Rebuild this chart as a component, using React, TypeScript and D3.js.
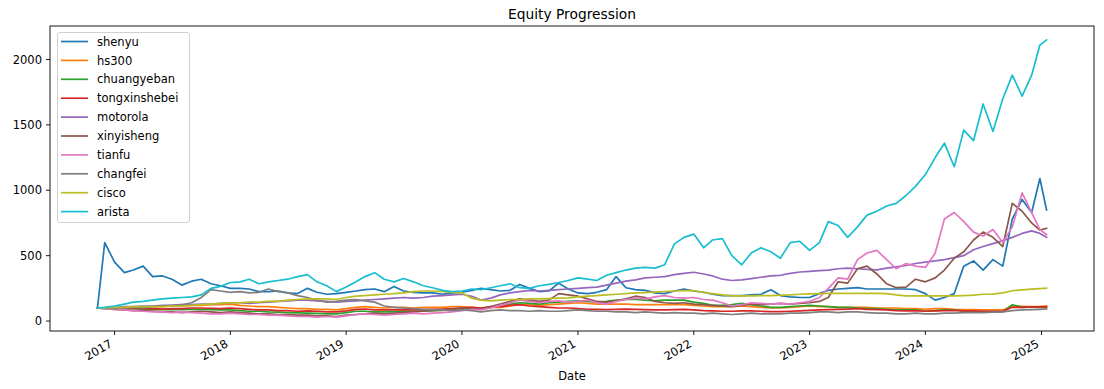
import React, { useRef, useEffect } from "react";
import * as d3 from "d3";

const seriesNames = [
  "shenyu",
  "hs300",
  "chuangyeban",
  "tongxinshebei",
  "motorola",
  "xinyisheng",
  "tianfu",
  "changfei",
  "cisco",
  "arista",
];

// matplotlib tab10
const colors = [
  "#1f77b4",
  "#ff7f0e",
  "#2ca02c",
  "#d62728",
  "#9467bd",
  "#8c564b",
  "#e377c2",
  "#7f7f7f",
  "#bcbd22",
  "#17becf",
];

// first day, monthly samples Dec 2016 .. Dec 2024, then two late points
const monthDates = d3.timeMonth.range(new Date(2016, 11, 1), new Date(2025, 0, 1));
const dates = [new Date(2016, 10, 8), ...monthDates, new Date(2024, 11, 27), new Date(2025, 0, 17)];

const yearTicks = ["2017", "2018", "2019", "2020", "2021", "2022", "2023", "2024", "2025"];
const valueTicks = [0, 500, 1000, 1500, 2000];

const shenyu = [
  100, 600, 450, 370, 390, 420, 340, 345, 320, 275,
  305, 320, 285, 270, 250, 250, 245, 225, 225, 230,
  215, 210, 250, 220, 205, 210, 220, 230, 240, 245,
  225, 265, 230, 220, 215, 215, 205, 215, 220, 235,
  250, 240, 230, 235, 280, 250, 225, 230, 290, 245,
  215, 210, 220, 240, 340, 255, 240, 235, 215, 210,
  230, 245, 230, 220, 205, 195, 195, 195, 200, 205,
  240, 195, 185, 180, 180, 210, 235, 245, 250, 255,
  245, 245, 245, 245, 245, 240, 210, 160, 180, 210,
  420, 460, 390, 470, 420, 780, 930, 830, 1090, 850,
];
const hs300 = [
  100, 100, 100, 105, 105, 105, 110, 110, 115, 115,
  120, 120, 125, 125, 130, 120, 115, 110, 110, 105,
  100, 95, 95, 90, 90, 85, 95, 105, 110, 105,
  100, 105, 105, 100, 105, 105, 105, 110, 110, 105,
  100, 105, 105, 115, 125, 125, 120, 125, 130, 135,
  140, 135, 130, 130, 130, 130, 125, 125, 125, 125,
  125, 125, 120, 115, 110, 110, 110, 115, 110, 105,
  100, 100, 105, 110, 115, 110, 110, 105, 105, 105,
  105, 100, 100, 100, 95, 95, 90, 95, 95, 90,
  88, 88, 85, 85, 85, 115, 112, 110, 112, 115,
];
const chuangyeban = [
  100, 98, 95, 95, 95, 90, 88, 88, 90, 88,
  90, 90, 88, 85, 85, 80, 75, 75, 70, 68,
  65, 62, 60, 58, 55, 55, 65, 75, 75, 70,
  70, 72, 75, 75, 78, 80, 82, 90, 95, 100,
  95, 105, 115, 130, 140, 135, 130, 140, 145, 150,
  155, 150, 145, 150, 160, 165, 165, 160, 155, 160,
  160, 160, 145, 135, 120, 120, 125, 135, 125, 115,
  105, 105, 110, 115, 120, 115, 110, 105, 105, 100,
  95, 95, 90, 85, 85, 85, 75, 80, 85, 85,
  75, 75, 72, 72, 70, 125, 105, 108, 105, 102,
];
const tongxinshebei = [
  100, 98, 95, 95, 98, 95, 95, 92, 95, 95,
  100, 100, 98, 95, 100, 95, 90, 85, 85, 80,
  80, 75, 78, 75, 70, 70, 78, 90, 92, 85,
  85, 85, 88, 85, 88, 90, 92, 95, 100, 105,
  100, 110, 110, 120, 125, 115, 110, 105, 100, 100,
  95, 90, 90, 88, 90, 92, 90, 88, 85, 85,
  88, 90, 85, 80, 78, 75, 75, 78, 78, 75,
  72, 72, 75, 78, 82, 85, 88, 90, 92, 95,
  90, 88, 85, 80, 78, 80, 75, 78, 80, 82,
  78, 78, 75, 75, 75, 105, 105, 108, 108, 108,
];
const motorola = [
  100, 100, 105, 110, 110, 115, 115, 120, 120, 125,
  125, 130, 130, 135, 140, 140, 135, 140, 145, 150,
  155, 160, 160, 155, 150, 145, 150, 155, 160, 165,
  170, 175, 180, 175, 180, 190, 195, 200, 205, 190,
  160, 175, 200, 215, 225, 235, 230, 235, 240, 245,
  250, 255, 260, 275, 290, 305, 315, 330, 335, 340,
  355, 365, 373, 360, 345, 320, 310, 315, 325, 335,
  345, 350, 365, 375, 380, 385, 390, 400, 405, 400,
  395, 392, 405, 415, 425, 440, 450, 460, 470, 485,
  500, 545, 570, 592, 615, 640, 670, 690, 670, 640,
];
const xinyisheng = [
  100, 95, 90, 85, 80, 80, 75, 70, 70, 65,
  70, 75, 70, 65, 70, 65, 60, 55, 55, 50,
  50, 45, 45, 40, 40, 35, 45, 50, 55, 60,
  55, 60, 65, 70, 75, 80, 85, 90, 100, 95,
  90, 110, 130, 150, 170, 160, 150, 160, 210, 200,
  190, 170, 150, 145, 155, 170, 190, 180, 150, 140,
  135, 140, 130, 125, 120, 115, 110, 120, 130, 125,
  130, 135, 130, 135, 140, 150, 180, 300, 290, 400,
  420, 360, 285, 255, 260, 320, 300, 330, 390, 480,
  530, 620, 680, 640, 570, 900, 840, 750, 695, 710,
];
const tianfu = [
  100, 95, 90, 85, 80, 75, 70, 70, 65, 70,
  65, 60, 55, 55, 60, 55, 50, 50, 45, 45,
  40, 35, 35, 30, 35, 30, 40, 50, 55, 50,
  45, 50, 55, 60, 55, 60, 65, 70, 80, 90,
  85, 100, 120, 140, 160, 150, 140, 150, 155, 145,
  150, 160, 140, 130, 150, 165, 175, 170, 185, 195,
  180, 175, 180, 165, 160, 140, 115, 125, 140, 135,
  130, 135, 130, 140, 150, 180, 250, 330, 320, 470,
  520, 540, 470, 400, 440, 420, 410, 520, 780, 830,
  760, 680, 650, 700, 600, 720, 980, 830, 700, 660,
];
const changfei = [
  100, 100, 95, 100, 105, 100, 110, 115, 120, 125,
  140, 180, 240, 230, 220, 225, 215, 220, 245, 225,
  215, 195, 180, 160, 145, 150, 160, 165, 155, 145,
  115, 105, 100, 95, 90, 85, 85, 80, 85, 80,
  70, 80, 85, 80, 80, 75, 80, 75, 75, 80,
  85, 80, 75, 75, 70, 70, 65, 70, 65, 60,
  65, 60, 60, 55, 60, 55, 50, 55, 60, 55,
  55, 55, 60, 60, 65, 70, 70, 65, 70, 70,
  65, 60, 60, 55, 55, 60, 55, 55, 60, 60,
  65, 65, 65, 68, 70, 80, 85, 88, 90, 92,
];
const cisco = [
  100, 100, 105, 105, 110, 110, 110, 110, 115, 115,
  120, 125, 130, 135, 140, 140, 145, 145, 150, 150,
  160, 165, 170, 170, 170, 165, 180, 190, 195, 200,
  205, 210, 215, 225, 230, 230, 225, 220, 215, 175,
  160, 155, 160, 165, 165, 170, 170, 172, 175, 178,
  185, 190, 195, 200, 205, 210, 215, 218, 222, 226,
  230, 232, 232, 220, 210, 200, 193, 192, 193, 195,
  195, 198, 200, 205, 208, 210, 212, 212, 212, 212,
  212, 212, 210, 200, 193, 193, 193, 193, 193, 193,
  195, 198, 205, 206, 215, 232, 238, 244, 248, 252,
];
const arista = [
  100, 105, 115, 130, 145, 150, 160, 170, 175, 180,
  185, 200, 250, 265, 295, 300, 320, 285, 300, 310,
  320, 340, 355, 300, 270, 225, 260, 300, 340, 370,
  320, 300, 325, 300, 270, 255, 235, 225, 230, 245,
  240, 255, 270, 285, 255, 250, 270, 280, 295, 310,
  330, 320, 310, 350, 370, 390, 405, 410, 405, 430,
  590, 640, 665, 560, 620, 630, 500, 430, 520, 560,
  530, 480, 600, 610, 540, 600, 760, 730, 640, 720,
  810, 840, 880, 900, 960, 1030, 1120, 1250, 1360, 1180,
  1460, 1380, 1660, 1450, 1700, 1880, 1720, 1880, 2110, 2150,
];

const seriesValues = [
  shenyu,
  hs300,
  chuangyeban,
  tongxinshebei,
  motorola,
  xinyisheng,
  tianfu,
  changfei,
  cisco,
  arista,
];

const App = () => {
  const svgRef = useRef(null);
  const width = 1104;
  const height = 389;
  const margin = { top: 26, right: 10, bottom: 58, left: 50 };
  const font = "'DejaVu Sans', sans-serif";

  useEffect(() => {
    const svg = d3.select(svgRef.current);
    svg.selectAll("*").remove();

    const left = margin.left;
    const right = width - margin.right;
    const top = margin.top;
    const bottom = height - margin.bottom;

    // matplotlib style 5% data margins
    const [d0, d1] = d3.extent(dates);
    const spanX = +d1 - +d0;
    const x = d3
      .scaleTime()
      .domain([new Date(+d0 - spanX * 0.05), new Date(+d1 + spanX * 0.05)])
      .range([left, right]);

    const allVals = seriesValues.flat();
    const vMin = d3.min(allVals);
    const vMax = d3.max(allVals);
    const spanY = vMax - vMin;
    const y = d3
      .scaleLinear()
      .domain([vMin - spanY * 0.05, vMax + spanY * 0.05])
      .range([bottom, top]);

    const line = d3
      .line()
      .x((d, i) => x(dates[i]))
      .y((d) => y(d));

    seriesValues.forEach((vals, k) => {
      svg
        .append("path")
        .datum(vals)
        .attr("d", line)
        .attr("fill", "none")
        .attr("stroke", colors[k])
        .attr("stroke-width", 1.7)
        .attr("stroke-linejoin", "round")
        .attr("stroke-linecap", "square");
    });

    // frame
    svg
      .append("rect")
      .attr("x", left)
      .attr("y", top)
      .attr("width", right - left)
      .attr("height", bottom - top)
      .attr("fill", "none")
      .attr("stroke", "#000")
      .attr("stroke-width", 0.9);

    // y ticks
    valueTicks.forEach((v) => {
      svg
        .append("line")
        .attr("x1", left - 4)
        .attr("x2", left)
        .attr("y1", y(v))
        .attr("y2", y(v))
        .attr("stroke", "#000")
        .attr("stroke-width", 0.9);
      svg
        .append("text")
        .attr("x", left - 8)
        .attr("y", y(v))
        .attr("dy", "0.36em")
        .attr("text-anchor", "end")
        .style("font-family", font)
        .style("font-size", "11.5px")
        .text(v);
    });

    // x ticks, rotated labels
    yearTicks.forEach((yr) => {
      const tx = x(new Date(+yr, 0, 1));
      svg
        .append("line")
        .attr("x1", tx)
        .attr("x2", tx)
        .attr("y1", bottom)
        .attr("y2", bottom + 4)
        .attr("stroke", "#000")
        .attr("stroke-width", 0.9);
      const ax = tx - 1.5;
      const ay = bottom + 15;
      svg
        .append("text")
        .attr("x", ax)
        .attr("y", ay)
        .attr("text-anchor", "end")
        .attr("transform", `rotate(-30, ${ax}, ${ay})`)
        .style("font-family", font)
        .style("font-size", "11.5px")
        .text(yr);
    });

    svg
      .append("text")
      .attr("x", (left + right) / 2)
      .attr("y", 380)
      .attr("text-anchor", "middle")
      .style("font-family", font)
      .style("font-size", "11.5px")
      .text("Date");

    svg
      .append("text")
      .attr("x", (left + right) / 2)
      .attr("y", 19)
      .attr("text-anchor", "middle")
      .style("font-family", font)
      .style("font-size", "13.8px")
      .text("Equity Progression");

    // legend
    const legend = svg.append("g");
    legend
      .append("rect")
      .attr("x", 57.5)
      .attr("y", 32.5)
      .attr("width", 132)
      .attr("height", 190)
      .attr("rx", 2.5)
      .attr("fill", "#fff")
      .attr("fill-opacity", 0.8)
      .attr("stroke", "#cccccc")
      .attr("stroke-width", 0.9);

    seriesNames.forEach((name, k) => {
      const ly = 41.5 + k * 18.9;
      legend
        .append("line")
        .attr("x1", 61)
        .attr("x2", 88)
        .attr("y1", ly)
        .attr("y2", ly)
        .attr("stroke", colors[k])
        .attr("stroke-width", 1.7);
      legend
        .append("text")
        .attr("x", 97)
        .attr("y", ly)
        .attr("dy", "0.36em")
        .style("font-family", font)
        .style("font-size", "11.5px")
        .text(name);
    });
  }, []);

  return (
    <svg
      ref={svgRef}
      width={width}
      height={height}
      style={{ position: "absolute", left: 0, top: 0, background: "#fff" }}
    ></svg>
  );
};

export default App;
